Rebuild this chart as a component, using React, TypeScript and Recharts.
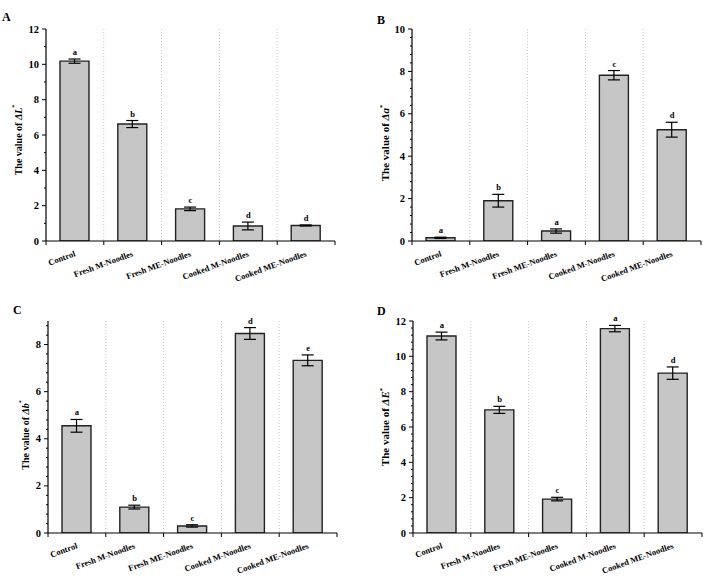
import React from 'react';
import {
  ComposedChart,
  Bar,
  Line,
  XAxis,
  YAxis,
  CartesianGrid,
  ErrorBar,
  LabelList,
  Label,
} from 'recharts';

const FONT = '"Liberation Serif", "Times New Roman", serif';

const categories = [
  'Control',
  'Fresh M-Noodles',
  'Fresh ME-Noodles',
  'Cooked M-Noodles',
  'Cooked ME-Noodles',
];

// Panel A: ΔL*
const dLValues = [10.18, 6.62, 1.82, 0.85, 0.88];
const dLErrors = [0.12, 0.2, 0.1, 0.22, 0.03];
const dLLetters = ['a', 'b', 'c', 'd', 'd'];
const dLMajor = [0, 2, 4, 6, 8, 10, 12];
const dLMinor = [1, 3, 5, 7, 9, 11];

// Panel B: Δa*
const daValues = [0.15, 1.9, 0.47, 7.82, 5.25];
const daErrors = [0.03, 0.3, 0.1, 0.22, 0.35];
const daLetters = ['a', 'b', 'a', 'c', 'd'];
const daMajor = [0, 2, 4, 6, 8, 10];
const daMinor = [0.4, 0.8, 1.2, 1.6, 2.4, 2.8, 3.2, 3.6, 4.4, 4.8, 5.2, 5.6, 6.4, 6.8, 7.2, 7.6, 8.4, 8.8, 9.2, 9.6];

// Panel C: Δb*
const dbValues = [4.55, 1.1, 0.3, 8.47, 7.33];
const dbErrors = [0.27, 0.08, 0.05, 0.25, 0.23];
const dbLetters = ['a', 'b', 'c', 'd', 'e'];
const dbMajor = [0, 2, 4, 6, 8];
const dbMinor = [0.4, 0.8, 1.2, 1.6, 2.4, 2.8, 3.2, 3.6, 4.4, 4.8, 5.2, 5.6, 6.4, 6.8, 7.2, 7.6, 8.4, 8.8];

// Panel D: ΔE*
const dEValues = [11.15, 6.97, 1.92, 11.57, 9.05];
const dEErrors = [0.22, 0.2, 0.1, 0.18, 0.35];
const dELetters = ['a', 'b', 'c', 'a', 'd'];
const dEMajor = [0, 2, 4, 6, 8, 10, 12];
const dEMinor = [0.4, 0.8, 1.2, 1.6, 2.4, 2.8, 3.2, 3.6, 4.4, 4.8, 5.2, 5.6, 6.4, 6.8, 7.2, 7.6, 8.4, 8.8, 9.2, 9.6, 10.4, 10.8, 11.2, 11.6];

type PanelProps = {
  left: number;
  top: number;
  width: number;
  height: number;
  yw: number;
  mTop: number;
  mRight: number;
  xh: number;
  max: number;
  major: number[];
  minor: number[];
  values: number[];
  errors: number[];
  letters: string[];
  sym: string;
  labelX: number;
  labelDy: number;
  labelSize: number;
};

const CatTick = (props: any) => {
  const { x, y, payload, index, width } = props;
  const half =
    payload && typeof payload.offset === 'number' && payload.offset > 0
      ? payload.offset
      : width / categories.length / 2;
  const ax = x + 1;
  const ay = y + 15;
  const last = index === categories.length - 1;
  return (
    <g>
      <line x1={x - half} x2={x - half} y1={y} y2={y + 4} stroke="#000" strokeWidth={1} />
      {last && <line x1={x + half} x2={x + half} y1={y} y2={y + 4} stroke="#000" strokeWidth={1} />}
      <text
        x={ax}
        y={ay}
        textAnchor="end"
        transform={`rotate(-20, ${ax}, ${ay})`}
        fontFamily={FONT}
        fontWeight="bold"
        fontSize={8.5}
        fill="#000"
      >
        {payload.value}
      </text>
    </g>
  );
};

const makeYTick = (major: number[]) => (props: any) => {
  const { x, y, payload } = props;
  const isMajor = major.indexOf(payload.value) >= 0;
  return (
    <g>
      <line x1={x - (isMajor ? 4 : 2)} x2={x} y1={y} y2={y} stroke="#000" strokeWidth={1} />
      {isMajor && (
        <text
          x={x - 7}
          y={y}
          textAnchor="end"
          dominantBaseline="central"
          fontFamily={FONT}
          fontWeight="bold"
          fontSize={10.5}
          fill="#000"
        >
          {payload.value}
        </text>
      )}
    </g>
  );
};

const vGen = (args: any) => {
  const { xAxis, offset } = args || {};
  if (xAxis && typeof xAxis.scale === 'function') {
    const vals = categories.slice(1).map((c) => xAxis.scale(c));
    if (vals.every((v: any) => typeof v === 'number' && isFinite(v))) return vals;
  }
  return [1, 2, 3, 4].map((k) => offset.left + (offset.width * k) / 5);
};

function Panel(p: PanelProps) {
  const data = categories.map((name, i) => ({
    name,
    value: p.values[i],
    err: p.errors[i],
    top: p.values[i] + p.errors[i],
    sig: p.letters[i],
  }));
  const allTicks = [...p.major, ...p.minor].sort((a, b) => a - b);

  const yLabel = (lp: any) => {
    const vb = lp.viewBox || {};
    const cx = p.labelX;
    const cy = vb.y + vb.height / 2 + p.labelDy;
    return (
      <text
        x={cx}
        y={cy}
        transform={`rotate(-90, ${cx}, ${cy})`}
        textAnchor="middle"
        dominantBaseline="central"
        fontFamily={FONT}
        fontWeight="bold"
        fontSize={p.labelSize}
        fill="#000"
      >
        The value of <tspan fontStyle="italic">Δ{p.sym}</tspan>
        <tspan dy={-4} fontSize={p.labelSize * 0.6}>*</tspan>
      </text>
    );
  };

  return (
    <div style={{ position: 'absolute', left: p.left, top: p.top, width: p.width, height: p.height }}>
      <ComposedChart
        width={p.width}
        height={p.height}
        data={data}
        margin={{ top: p.mTop, right: p.mRight, left: 0, bottom: 0 }}
      >
        <CartesianGrid
          xAxisId="cat"
          yAxisId="main"
          horizontal={false}
          vertical
          verticalCoordinatesGenerator={vGen}
          stroke="#c8c8c8"
          strokeDasharray="1 2"
        />
        <XAxis
          xAxisId="cat"
          dataKey="name"
          height={p.xh}
          interval={0}
          tickLine={false}
          tickSize={0}
          tickMargin={0}
          axisLine={{ stroke: '#000', strokeWidth: 1.2 }}
          tick={<CatTick />}
        />
        <YAxis
          yAxisId="main"
          type="number"
          domain={[0, p.max]}
          ticks={allTicks}
          interval={0}
          allowDataOverflow
          width={p.yw}
          axisLine={{ stroke: '#000', strokeWidth: 1.2 }}
          tickLine={false}
          tickSize={0}
          tickMargin={0}
          tick={makeYTick(p.major)}
        >
          <Label content={yLabel} />
        </YAxis>
        <Bar
          xAxisId="cat"
          yAxisId="main"
          dataKey="value"
          fill="#c6c6c6"
          stroke="#222"
          strokeWidth={1.4}
          barSize={29}
          isAnimationActive={false}
        >
          <ErrorBar dataKey="err" width={6} stroke="#000" strokeWidth={1.2} direction="y" />
        </Bar>
        <Line
          xAxisId="cat"
          yAxisId="main"
          dataKey="top"
          stroke="none"
          dot={false}
          activeDot={false}
          legendType="none"
          isAnimationActive={false}
        >
          <LabelList
            dataKey="sig"
            position="top"
            offset={4}
            fill="#000"
            fontFamily={FONT}
            fontWeight="bold"
            fontSize={8.5}
          />
        </Line>
      </ComposedChart>
    </div>
  );
}

const letterStyle = { fontFamily: FONT, fontWeight: 'bold' as const, fontSize: 12, fill: '#000' };

export default function App() {
  return (
    <div style={{ position: 'absolute', left: 0, top: 0, width: 703, height: 581, background: '#fff' }}>
      <Panel left={0} top={0} width={350} height={290} yw={46} mTop={29} mRight={15} xh={49}
        max={12} major={dLMajor} minor={dLMinor} values={dLValues} errors={dLErrors} letters={dLLetters}
        sym="L" labelX={18} labelDy={5} labelSize={10} />
      <Panel left={350} top={0} width={353} height={290} yw={62} mTop={29} mRight={2} xh={49}
        max={10} major={daMajor} minor={daMinor} values={daValues} errors={daErrors} letters={daLetters}
        sym="a" labelX={35} labelDy={8} labelSize={11} />
      <Panel left={0} top={290} width={350} height={291} yw={48} mTop={31} mRight={13} xh={48}
        max={9} major={dbMajor} minor={dbMinor} values={dbValues} errors={dbErrors} letters={dbLetters}
        sym="b" labelX={25} labelDy={8} labelSize={10} />
      <Panel left={350} top={290} width={353} height={291} yw={63} mTop={31} mRight={1} xh={48}
        max={12} major={dEMajor} minor={dEMinor} values={dEValues} errors={dEErrors} letters={dELetters}
        sym="E" labelX={35} labelDy={0} labelSize={11} />
      <svg width={703} height={581} style={{ position: 'absolute', left: 0, top: 0, pointerEvents: 'none' }}>
        <text x={2} y={21} {...letterStyle}>A</text>
        <text x={377} y={24} {...letterStyle}>B</text>
        <text x={13} y={314} {...letterStyle}>C</text>
        <text x={377} y={315} {...letterStyle}>D</text>
      </svg>
    </div>
  );
}
